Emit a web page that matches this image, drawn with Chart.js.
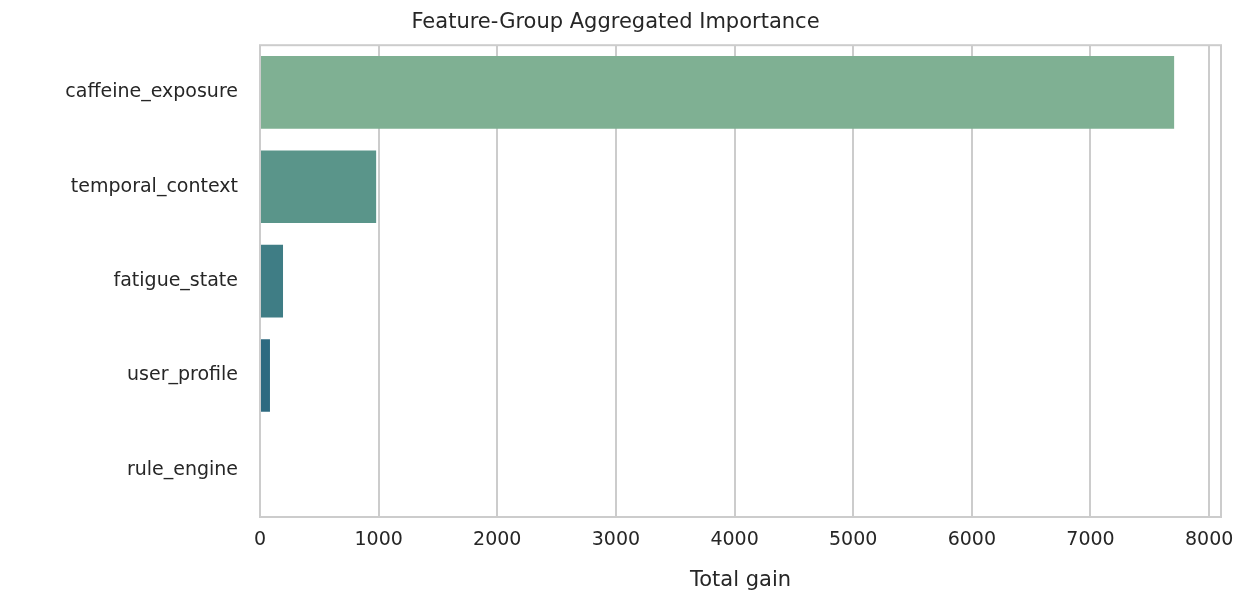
<!DOCTYPE html>
<html>
<head>
<meta charset="utf-8">
<script src="https://cdn.jsdelivr.net/npm/chart.js@4/dist/chart.umd.min.js"></script>
<style>
  body { margin: 0; background: #fff; }
  #wrap { width: 1254px; height: 609px; }
</style>
</head>
<body>
<div id="wrap"><canvas id="chartImportance"></canvas></div>
<script>
var groups = ["caffeine_exposure", "temporal_context", "fatigue_state", "user_profile", "rule_engine"];
var gains = [7705, 979, 194, 84, 3];
var barColors = ["#7fb093", "#5a958a", "#3f7d85", "#2e6a80", "#25507a"];
var xTicks = [0, 1000, 2000, 3000, 4000, 5000, 6000, 7000, 8000];

// box around the plot area, like the seaborn whitegrid spines
var frame = {
  id: "frame",
  afterDraw: function (chart) {
    var a = chart.chartArea, ctx = chart.ctx;
    ctx.save();
    ctx.strokeStyle = "#cccccc";
    ctx.lineWidth = 2;
    ctx.strokeRect(a.left, a.top, a.right - a.left, a.bottom - a.top);
    ctx.restore();
  }
};

new Chart(document.getElementById("chartImportance").getContext("2d"), {
  type: "bar",
  data: {
    labels: groups,
    datasets: [{
      data: gains,
      backgroundColor: barColors,
      borderWidth: 0,
      barPercentage: 0.77,
      categoryPercentage: 1
    }]
  },
  options: {
    indexAxis: "y",
    responsive: true,
    maintainAspectRatio: false,
    animation: false,
    layout: { padding: { left: 10, right: 33, top: 6, bottom: 12 } },
    plugins: {
      legend: { display: false },
      tooltip: { enabled: false },
      title: {
        display: true,
        text: "Feature-Group Aggregated Importance",
        color: "#262626",
        font: { size: 21, family: "DejaVu Sans", weight: "normal" },
        padding: { top: 4, bottom: 10 }
      }
    },
    scales: {
      x: {
        min: 0,
        max: 8100,
        afterBuildTicks: function (axis) {
          axis.ticks = xTicks.map(function (v) { return { value: v }; });
        },
        grid: { color: "#cccccc", lineWidth: 2, drawTicks: false },
        border: { display: false },
        ticks: {
          color: "#262626", padding: 12, font: { size: 19, family: "DejaVu Sans" },
          callback: function (v) { return String(v); }
        },
        title: {
          display: true,
          text: "Total gain",
          color: "#262626",
          font: { size: 21, family: "DejaVu Sans" },
          padding: { top: 4 }
        }
      },
      y: {
        afterFit: function (axis) { axis.width = 250; },
        grid: { display: false, drawTicks: false },
        border: { display: false },
        ticks: { color: "#262626", padding: 22, font: { size: 19, family: "DejaVu Sans" } }
      }
    }
  },
  plugins: [frame]
});
</script>
</body>
</html>
